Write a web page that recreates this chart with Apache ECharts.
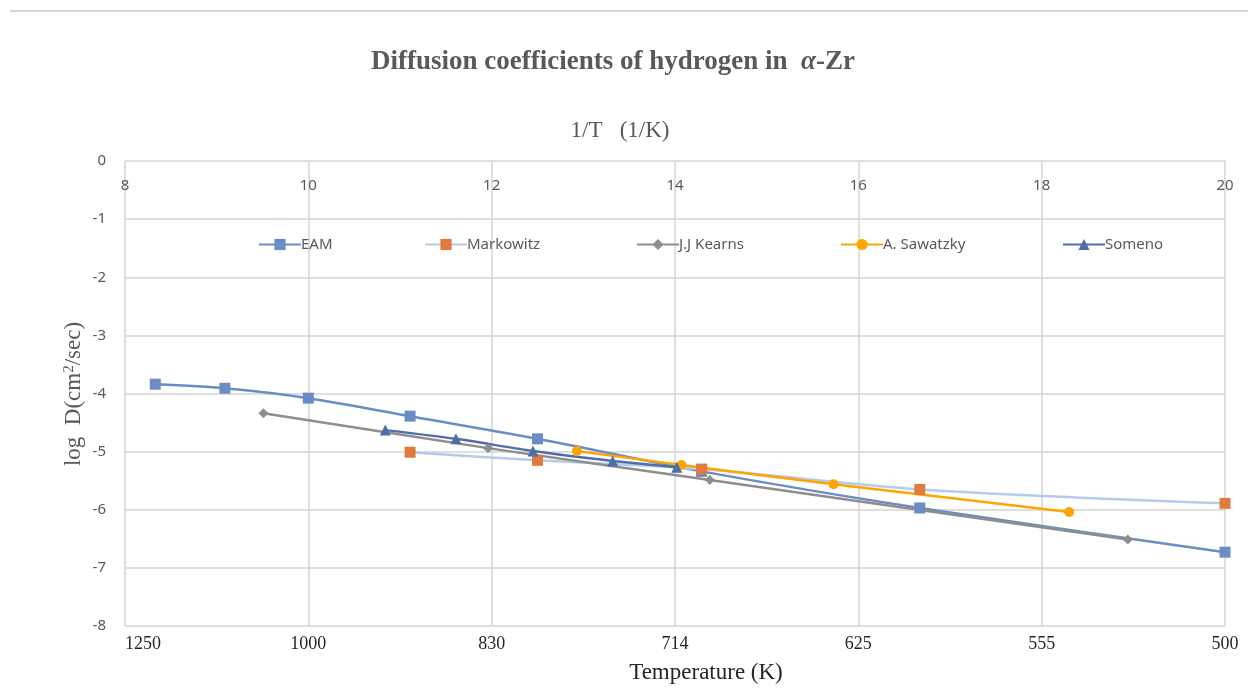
<!DOCTYPE html>
<html>
<head>
<meta charset="utf-8">
<script src="https://cdn.jsdelivr.net/npm/echarts@6/dist/echarts.min.js"></script>
<style>html,body{margin:0;padding:0;background:#fff;}#chart{width:1248px;height:693px;}</style>
</head>
<body>
<div id="chart"></div>
<script>
// 1/T axis (x 10^-4 1/K) and temperature tick labels
const invTTicks = [8, 10, 12, 14, 16, 18, 20];
const tempLabels = ['1250', '1000', '830', '714', '625', '555', '500'];

// Series (x = 1/T, y = log D)
const eamX = [8.33, 9.09, 10.0, 11.11, 12.5, 14.29, 16.67, 20.0];
const eamY = [-3.84, -3.91, -4.08, -4.39, -4.78, -5.34, -5.97, -6.73];

const markowitzX = [11.11, 12.5, 14.29, 16.67, 20.0];
const markowitzY = [-5.01, -5.15, -5.30, -5.65, -5.89];

const kearnsX = [9.51, 11.96, 14.38, 18.94];
const kearnsY = [-4.34, -4.94, -5.49, -6.51];

const sawatzkyX = [12.93, 14.07, 15.73, 18.30];
const sawatzkyY = [-4.99, -5.23, -5.56, -6.04];

const somenoX = [10.84, 11.61, 12.45, 13.32, 14.02];
const somenoY = [-4.63, -4.78, -4.99, -5.16, -5.27];

const pair = (xs, ys) => xs.map((x, i) => [x, ys[i]]);

const chart = echarts.init(document.getElementById('chart'));
const gridColor = '#d4d4d4';
const sansFont = 'Noto Sans';
const serifFont = 'Liberation Serif';

function legendAt(name, left) {
  return {
    data: [name], left: left, top: 237, padding: 0, itemWidth: 42, itemHeight: 14, itemGap: 0,
    textStyle: {color: '#595959', fontSize: 15, fontFamily: sansFont, padding: [0, 0, 0, -5]}
  };
}

const option = {
  animation: false,
  backgroundColor: '#fff',
  grid: {left: 125, right: 23, top: 161, bottom: 67, containLabel: false},
  legend: [
    legendAt('EAM', 258),
    legendAt('Markowitz', 424),
    legendAt('J.J Kearns', 636),
    legendAt('A. Sawatzky', 840),
    legendAt('Someno', 1062)
  ],
  xAxis: [
    {
      type: 'value', position: 'top', min: 8, max: 20, interval: 2,
      axisLine: {show: false}, axisTick: {show: false},
      axisLabel: {inside: true, margin: 17, color: '#595959', fontSize: 15, fontFamily: sansFont},
      splitLine: {show: true, lineStyle: {color: gridColor, width: 1.5}}
    },
    {
      type: 'value', position: 'bottom', min: 8, max: 20, interval: 2,
      axisLine: {show: false}, axisTick: {show: false},
      splitLine: {show: false},
      axisLabel: {
        margin: 9, color: '#262626', fontSize: 18, fontFamily: serifFont,
        alignMinLabel: 'left', alignMaxLabel: 'center',
        formatter: v => tempLabels[invTTicks.indexOf(v)] || ''
      }
    }
  ],
  yAxis: {
    type: 'value', min: -8, max: 0, interval: 1,
    axisLine: {show: false}, axisTick: {show: false},
    axisLabel: {margin: 19, color: '#595959', fontSize: 15, fontFamily: sansFont},
    splitLine: {show: true, lineStyle: {color: gridColor, width: 1.5}}
  },
  graphic: [
    {type: 'line', shape: {x1: 10, y1: 11, x2: 1248, y2: 11}, style: {stroke: '#c8c8c8', lineWidth: 1.5}},
    {type: 'text', x: 613, y: 62, style: {
      text: '{a|Diffusion coefficients of hydrogen in  }{b|α}{a|-Zr}',
      textAlign: 'center', textVerticalAlign: 'middle',
      rich: {
        a: {fontFamily: serifFont, fontWeight: 'bold', fontSize: 27, fill: '#595959', color: '#595959'},
        b: {fontFamily: serifFont, fontWeight: 'bold', fontStyle: 'italic', fontSize: 27, fill: '#595959', color: '#595959'}
      }
    }},
    {type: 'text', x: 620, y: 131, style: {text: '1/T   (1/K)', textAlign: 'center', textVerticalAlign: 'middle',
      font: '23px "Liberation Serif"', fill: '#595959'}},
    {type: 'text', x: 706, y: 673, style: {text: 'Temperature (K)', textAlign: 'center', textVerticalAlign: 'middle',
      font: '23px "Liberation Serif"', fill: '#262626'}},
    {type: 'text', x: 74, y: 394, rotation: Math.PI / 2, style: {
      text: '{a|log  D(cm}{s|2}{a|/sec)}', textAlign: 'center', textVerticalAlign: 'middle',
      rich: {
        a: {fontFamily: serifFont, fontSize: 23, fill: '#595959', color: '#595959'},
        s: {fontFamily: serifFont, fontSize: 15, fill: '#595959', color: '#595959', verticalAlign: 'top', padding: [0, 0, 9, 0]}
      }
    }}
  ],
  series: [
    {
      name: 'EAM', type: 'line', xAxisIndex: 0, data: pair(eamX, eamY), smooth: 0.3,
      symbol: 'rect', symbolSize: 11,
      lineStyle: {color: '#6a8ec4', width: 2.5}, itemStyle: {color: '#6a8ec4'}
    },
    {
      name: 'Markowitz', type: 'line', xAxisIndex: 0, data: pair(markowitzX, markowitzY), smooth: 0.3,
      symbol: 'rect', symbolSize: 11,
      lineStyle: {color: '#b4cbea', width: 2.5}, itemStyle: {color: '#e07b3f'}
    },
    {
      name: 'J.J Kearns', type: 'line', xAxisIndex: 0, data: pair(kearnsX, kearnsY), smooth: 0.2,
      symbol: 'diamond', symbolSize: 10,
      lineStyle: {color: '#8e8e8e', width: 2.5}, itemStyle: {color: '#8e8e8e'}
    },
    {
      name: 'A. Sawatzky', type: 'line', xAxisIndex: 0, data: pair(sawatzkyX, sawatzkyY), smooth: 0.2,
      symbol: 'circle', symbolSize: 10,
      lineStyle: {color: '#ffa500', width: 2.5}, itemStyle: {color: '#ffa500'}
    },
    {
      name: 'Someno', type: 'line', xAxisIndex: 0, data: pair(somenoX, somenoY), smooth: 0.2,
      symbol: 'triangle', symbolSize: 11,
      lineStyle: {color: '#4f6ea8', width: 2.5}, itemStyle: {color: '#4f6ea8'}
    }
  ]
};
chart.setOption(option);
</script>
</body>
</html>
